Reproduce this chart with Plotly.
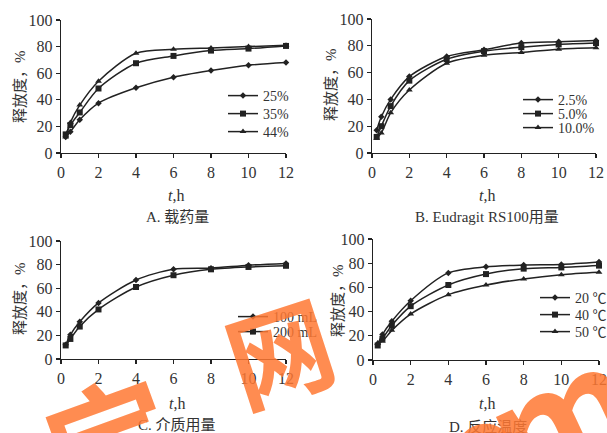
import plotly.graph_objects as go

W, H = 607, 433

t = [0.25, 0.5, 1, 2, 4, 6, 8, 10, 12]

# Panel A: drug loading
a_names = ["25%", "35%", "44%"]
a_25 = [12, 16, 25, 37.5, 49, 57, 62, 66, 68]
a_35 = [14, 21, 30.5, 48.5, 67.5, 73, 77, 78.5, 80.5]
a_44 = [12, 23, 36, 54, 75, 78, 79, 80, 81]

# Panel B: Eudragit RS100 amount
b_names = ["2.5%", "5.0%", "10.0%"]
b_25 = [17, 27, 40, 57, 72, 77, 82, 83, 84]
b_50 = [12, 20, 35, 54, 70, 76, 79, 81, 82]
b_100 = [11, 15, 30, 47, 67, 73, 75, 77.5, 78.5]

# Panel C: medium volume
c_names = ["100 mL", "200 mL"]
c_100 = [12, 20.5, 31.5, 47.5, 67, 76, 77, 79.5, 81]
c_200 = [11.5, 17, 27.5, 42, 61, 71, 76, 78, 79]

# Panel D: reaction temperature
d_names = ["20 ℃", "40 ℃", "50 ℃"]
d_20 = [13, 21, 32, 49, 72, 77, 78.5, 79, 81]
d_40 = [12, 17.5, 28.5, 44.5, 62, 71, 75.5, 76.5, 78]
d_50 = [14, 15.5, 24.5, 38, 54, 62, 67, 70.5, 72.5]

x_ticks = [0, 2, 4, 6, 8, 10, 12]
y_ticks = [0, 20, 40, 60, 80, 100]

y_title = "释放度，%"
x_title = "<i>t</i>,h"
sub_titles = ["A. 载药量", "B. Eudragit RS100用量", "C. 介质用量", "D. 反应温度"]

SERIF = "Liberation Serif, Times New Roman, Noto Sans CJK SC, serif"
INK = "#222222"
TXT = "#333333"


def px(x):
    return x / W


def py(y):
    return 1 - y / H


symbols = ["diamond", "square", "triangle-up"]
sizes = [5, 6, 6]

fig = go.Figure()

panels = [
    ("x", "y", a_names, [a_25, a_35, a_44]),
    ("x2", "y2", b_names, [b_25, b_50, b_100]),
    ("x3", "y3", c_names, [c_100, c_200]),
    ("x4", "y4", d_names, [d_20, d_40, d_50]),
]

# legend entry positions (text left x, row centre y) in pixels
leg_rows = [
    [(263, 96), (263, 114), (263, 132)],
    [(558, 100), (558, 114), (558, 128)],
    [(273, 317), (273, 332)],
    [(575, 298), (575, 315), (575, 332)],
]

legend_common = dict(
    bgcolor="rgba(0,0,0,0)", borderwidth=0, itemwidth=30,
    font=dict(family=SERIF, size=14, color=TXT),
    xanchor="left", yanchor="middle", tracegroupgap=0, itemclick=False,
)

legends = {}
n = 0
for (xa, ya, names, series), rows in zip(panels, leg_rows):
    for i, (nm, vals) in enumerate(zip(names, series)):
        n += 1
        key = "legend" if n == 1 else "legend%d" % n
        tx, ty = rows[i]
        legends[key] = dict(legend_common, x=px(tx - 40), y=py(ty))
        fig.add_trace(go.Scatter(
            x=t, y=vals, name=nm, xaxis=xa, yaxis=ya, legend=key,
            mode="lines+markers", cliponaxis=False, hoverinfo="skip",
            line=dict(color=INK, width=1.5, shape="spline", smoothing=0.8),
            marker=dict(symbol=symbols[i], size=sizes[i], color=INK),
        ))

# axis domains in pixel space: (x0, x12, y0, y100)
doms = [
    (61, 286, 153, 20),
    (372, 596, 153, 19),
    (61, 286, 359, 241),
    (373, 599, 360, 239),
]

axis_common = dict(
    showgrid=False, zeroline=False, showline=True, linecolor=INK, linewidth=1.3,
    ticks="outside", ticklen=4, tickwidth=1.2, tickcolor=INK, automargin=False,
    tickfont=dict(family=SERIF, size=16, color=TXT),
)

layout = dict(
    template="none",
    width=W, height=H, margin=dict(l=0, r=0, t=0, b=0, pad=0, autoexpand=False),
    paper_bgcolor="white", plot_bgcolor="white", showlegend=True,
)
names_ax = ["", "2", "3", "4"]
for k, (x0, x12, y0, y100) in enumerate(doms):
    s = names_ax[k]
    layout["xaxis" + s] = dict(
        axis_common, domain=[px(x0), px(x12)], range=[0, 12],
        tickvals=x_ticks, anchor="y" + s,
    )
    layout["yaxis" + s] = dict(
        axis_common, domain=[py(y0), py(y100)], range=[0, 100],
        tickvals=y_ticks, anchor="x" + s,
    )
layout.update(legends)
fig.update_layout(**layout)

ann = []
base = dict(showarrow=False, xref="paper", yref="paper", xanchor="center", yanchor="middle")
ytitle_pos = [(20, 87), (331, 85), (20, 299), (338, 301)]
for (ax_, ay_) in ytitle_pos:
    ann.append(dict(base, x=px(ax_), y=py(ay_), text=y_title, textangle=-90,
                    font=dict(family=SERIF, size=15, color=TXT)))
xtitle_pos = [(176, 195), (487, 195), (177, 403), (487, 403)]
for (ax_, ay_) in xtitle_pos:
    ann.append(dict(base, x=px(ax_), y=py(ay_), text=x_title,
                    font=dict(family=SERIF, size=16, color=TXT)))
sub_pos = [(177, 217), (487, 217), (177, 425), (488, 426)]
for txt, (ax_, ay_) in zip(sub_titles, sub_pos):
    ann.append(dict(base, x=px(ax_), y=py(ay_), text=txt,
                    font=dict(family=SERIF, size=15, color=TXT)))

# watermark glyphs
WM = "rgba(255,120,50,0.85)"
wm = [("宝", 108, 434, 125, -20), ("网", 278, 348, 105, -18),
      ("o", 480, 440, 110, -22), ("m", 558, 408, 150, -25)]
for g, gx, gy, fs, ang in wm:
    ann.append(dict(base, x=px(gx), y=py(gy), text="<b>%s</b>" % g, textangle=ang,
                    font=dict(family="Noto Sans CJK SC, Noto Sans, sans-serif", size=fs, color=WM)))

fig.update_layout(annotations=ann)

fig.write_html("out.html", post_script="document.body.style.margin='0';",
               config={"displayModeBar": False, "staticPlot": True})
